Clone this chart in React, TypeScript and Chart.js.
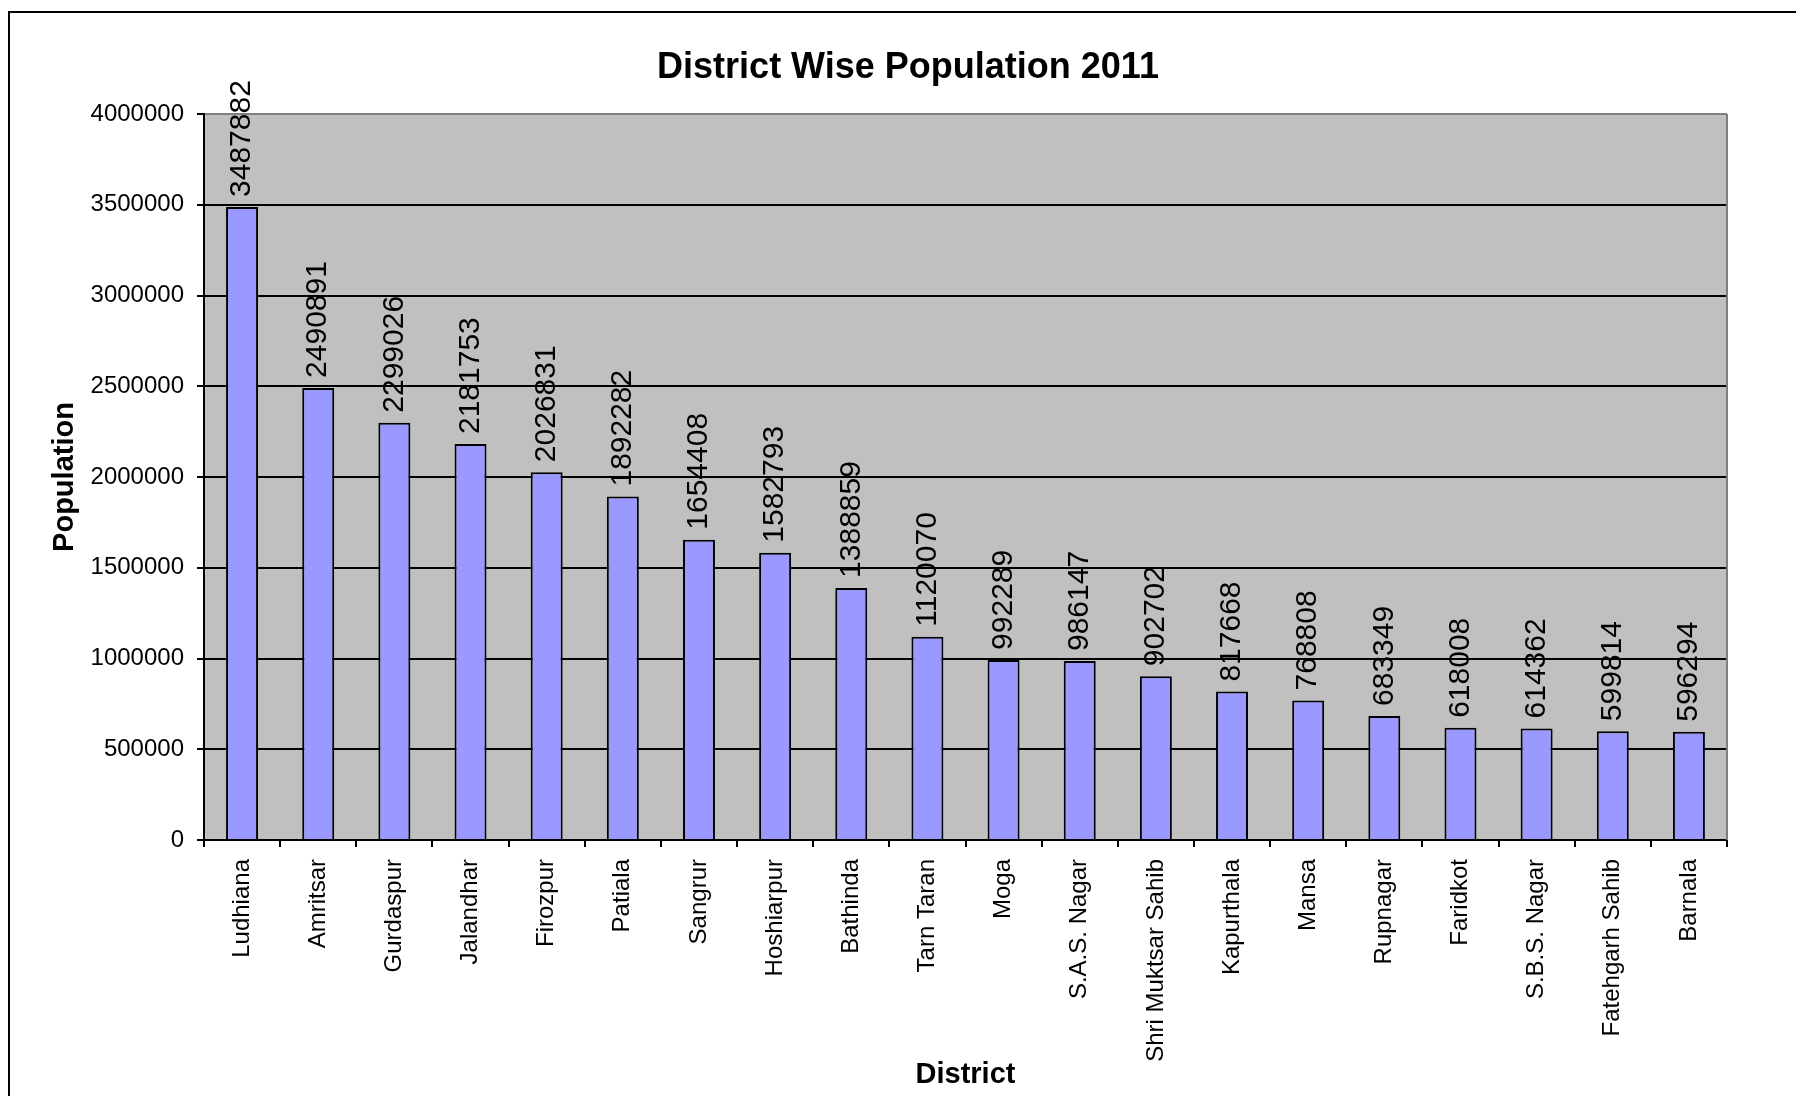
import React, { useEffect, useRef } from 'react';
import { Chart, registerables } from 'chart.js';

Chart.register(...registerables);

const districts = [
  'Ludhiana', 'Amritsar', 'Gurdaspur', 'Jalandhar', 'Firozpur', 'Patiala', 'Sangrur',
  'Hoshiarpur', 'Bathinda', 'Tarn Taran', 'Moga', 'S.A.S. Nagar', 'Shri Muktsar Sahib',
  'Kapurthala', 'Mansa', 'Rupnagar', 'Faridkot', 'S.B.S. Nagar', 'Fatehgarh Sahib', 'Barnala',
];
const population = [
  3487882, 2490891, 2299026, 2181753, 2026831, 1892282, 1654408,
  1582793, 1388859, 1120070, 992289, 986147, 902702,
  817668, 768808, 683349, 618008, 614362, 599814, 596294,
];
const yMin = 0;
const yMax = 4000000;
const yStep = 500000;
const chartTitle = 'District Wise Population 2011';
const xTitle = 'District';
const yTitle = 'Population';

const W = 1796;
const H = 1096;
const FONT = "'Liberation Sans', Arial, Helvetica, sans-serif";

export default function App() {
  const ref = useRef<HTMLCanvasElement>(null);

  useEffect(() => {
    const canvas = ref.current;
    if (!canvas) return;

    const decor = {
      id: 'decor',
      beforeDraw(chart: any) {
        const { ctx, chartArea: a } = chart;
        ctx.save();
        ctx.fillStyle = '#ffffff';
        ctx.fillRect(0, 0, W, H);
        ctx.fillStyle = '#C0C0C0';
        ctx.fillRect(a.left, a.top, a.right - a.left, a.bottom - a.top);
        ctx.strokeStyle = '#000';
        ctx.lineWidth = 2;
        ctx.beginPath();
        ctx.moveTo(9, H);
        ctx.lineTo(9, 12);
        ctx.lineTo(W, 12);
        ctx.stroke();
        ctx.restore();
      },
      afterDatasetsDraw(chart: any) {
        const { ctx } = chart;
        const meta = chart.getDatasetMeta(0);
        ctx.save();
        ctx.font = `30px ${FONT}`;
        ctx.fillStyle = '#000';
        ctx.textAlign = 'left';
        ctx.textBaseline = 'middle';
        meta.data.forEach((bar: any, i: number) => {
          ctx.save();
          ctx.translate(bar.x, bar.y - 10);
          ctx.rotate(-Math.PI / 2);
          ctx.fillText(String(population[i]), 0, 0);
          ctx.restore();
        });
        ctx.restore();
      },
      afterDraw(chart: any) {
        const { ctx, chartArea: a } = chart;
        ctx.save();
        ctx.strokeStyle = '#808080';
        ctx.lineWidth = 2;
        ctx.beginPath();
        ctx.moveTo(a.right, a.top);
        ctx.lineTo(a.right, a.bottom);
        ctx.stroke();
        ctx.fillStyle = '#000';
        ctx.font = `bold 36px ${FONT}`;
        ctx.textAlign = 'center';
        ctx.textBaseline = 'alphabetic';
        ctx.fillText(chartTitle, 908, 78);
        ctx.font = `bold 29px ${FONT}`;
        ctx.fillText(xTitle, (a.left + a.right) / 2, 1083);
        ctx.save();
        ctx.translate(73, (a.top + a.bottom) / 2);
        ctx.rotate(-Math.PI / 2);
        ctx.fillText(yTitle, 0, 0);
        ctx.restore();
        ctx.restore();
      },
    };

    const chart = new Chart(canvas, {
      type: 'bar',
      data: {
        labels: districts,
        datasets: [
          {
            data: population,
            backgroundColor: '#9999FF',
            borderColor: '#000000',
            borderWidth: 2,
            barPercentage: 0.42,
            categoryPercentage: 1,
          },
        ],
      },
      options: {
        responsive: false,
        devicePixelRatio: 1,
        animation: false,
        layout: { padding: { left: 24, top: 114, right: 69, bottom: 6 } },
        plugins: {
          legend: { display: false },
          tooltip: { enabled: false },
          title: { display: false },
        },
        scales: {
          x: {
            afterFit(scale: any) {
              scale.height = 250;
            },
            border: { color: '#000', width: 2 },
            grid: {
              offset: true,
              drawOnChartArea: false,
              drawTicks: true,
              tickLength: 7,
              tickColor: '#000',
              color: '#000',
              lineWidth: 2,
            },
            ticks: {
              autoSkip: false,
              maxRotation: 90,
              minRotation: 90,
              padding: 12,
              color: '#000',
              font: { family: FONT, size: 24 },
            },
          },
          y: {
            min: yMin,
            max: yMax,
            afterFit(scale: any) {
              scale.width = 180;
            },
            border: { color: '#000', width: 2 },
            grid: {
              color: (c: any) => (c.tick && c.tick.value === yMax ? '#808080' : '#000'),
              tickColor: '#000',
              lineWidth: 2,
              tickLength: 7,
              drawTicks: true,
            },
            ticks: {
              stepSize: yStep,
              padding: 13,
              color: '#000',
              font: { family: FONT, size: 24 },
              callback: (v: any) => String(v),
            },
          },
        },
      },
      plugins: [decor],
    });

    return () => chart.destroy();
  }, []);

  return (
    <div style={{ position: 'fixed', left: 0, top: 0, width: W, height: H, background: '#fff' }}>
      <canvas ref={ref} width={W} height={H} style={{ width: W, height: H, display: 'block' }} />
    </div>
  );
}
